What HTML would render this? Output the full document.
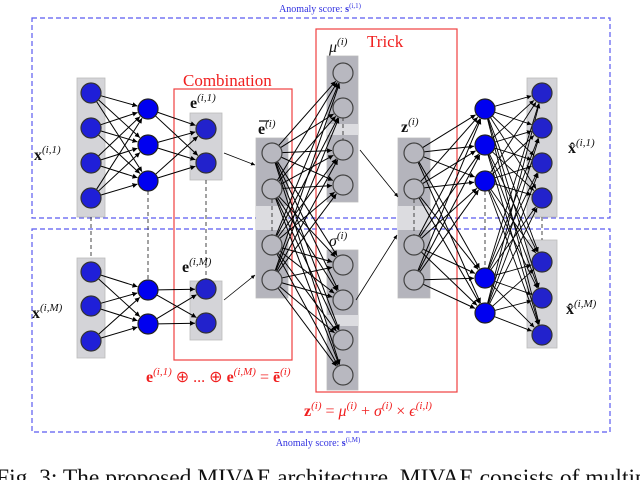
<!DOCTYPE html>
<html><head><meta charset="utf-8"><style>
html,body{margin:0;padding:0;background:#fff;width:640px;height:480px;overflow:hidden}
svg{display:block}
text{font-family:"Liberation Serif",serif}
</style></head><body>
<svg id="s" width="640" height="480" viewBox="0 0 640 480" xmlns="http://www.w3.org/2000/svg">
<defs><marker id="a" markerWidth="6" markerHeight="6" refX="5" refY="3" orient="auto"><path d="M0,0.5 L5,3 L0,5.5z" fill="#000"/></marker></defs>
<rect x="32" y="18" width="578" height="200" fill="none" stroke="#5a5af0" stroke-width="1.2" stroke-dasharray="5,3"/>
<rect x="32" y="229" width="578" height="203" fill="none" stroke="#5a5af0" stroke-width="1.2" stroke-dasharray="5,3"/>
<text x="320" y="12" font-size="10" fill="#3030e0" text-anchor="middle">Anomaly score: <tspan font-weight="bold">s</tspan><tspan font-size="7" dy="-4">(i,1)</tspan></text>
<text x="318" y="446" font-size="10" fill="#3030e0" text-anchor="middle">Anomaly score: <tspan font-weight="bold">s</tspan><tspan font-size="7" dy="-4">(i,M)</tspan></text>
<rect x="174" y="89" width="118" height="271" fill="none" stroke="#f04040" stroke-width="1.2"/>
<rect x="316" y="29" width="141" height="363" fill="none" stroke="#f04040" stroke-width="1.2"/>
<text x="183" y="86" font-size="17" fill="#f02020">Combination</text>
<text x="367" y="47" font-size="17" fill="#f02020">Trick</text>
<g id="bg"></g><g id="ed"></g><g id="nd"></g>
<g font-size="16" fill="#111">
<text x="34" y="160" font-weight="bold">x<tspan font-size="11" dy="-7" font-weight="normal" font-style="italic">(i,1)</tspan></text>
<text x="32" y="318" font-weight="bold">x<tspan font-size="11" dy="-7" font-weight="normal" font-style="italic">(i,M)</tspan></text>
<text x="568" y="153" font-weight="bold">x̂<tspan font-size="11" dy="-7" font-weight="normal" font-style="italic">(i,1)</tspan></text>
<text x="566" y="314" font-weight="bold">x̂<tspan font-size="11" dy="-7" font-weight="normal" font-style="italic">(i,M)</tspan></text>
<text x="190" y="108" font-weight="bold">e<tspan font-size="11" dy="-7" font-weight="normal" font-style="italic">(i,1)</tspan></text>
<text x="182" y="272" font-weight="bold">e<tspan font-size="11" dy="-7" font-weight="normal" font-style="italic">(i,M)</tspan></text>
<text x="258" y="134" font-weight="bold">e<tspan font-size="11" dy="-7" font-weight="normal" font-style="italic">(i)</tspan></text>
<line x1="259" y1="121" x2="269" y2="121" stroke="#111" stroke-width="1.2"/>
<text x="329" y="52" font-style="italic">μ<tspan font-size="11" dy="-7">(i)</tspan></text>
<text x="329" y="246" font-style="italic">σ<tspan font-size="11" dy="-7">(i)</tspan></text>
<text x="401" y="132" font-weight="bold">z<tspan font-size="11" dy="-7" font-weight="normal" font-style="italic">(i)</tspan></text>
</g>
<text x="146" y="382" font-size="16" fill="#f02020"><tspan font-weight="bold">e</tspan><tspan font-size="11" dy="-7" font-style="italic">(i,1)</tspan><tspan dy="7"> ⊕ ... ⊕ </tspan><tspan font-weight="bold">e</tspan><tspan font-size="11" dy="-7" font-style="italic">(i,M)</tspan><tspan dy="7"> = </tspan><tspan font-weight="bold">ē</tspan><tspan font-size="11" dy="-7" font-style="italic">(i)</tspan></text>
<text x="304" y="416" font-size="16" fill="#f02020"><tspan font-weight="bold">z</tspan><tspan font-size="11" dy="-7" font-style="italic">(i)</tspan><tspan dy="7"> = </tspan><tspan font-style="italic">μ</tspan><tspan font-size="11" dy="-7" font-style="italic">(i)</tspan><tspan dy="7"> + </tspan><tspan font-style="italic">σ</tspan><tspan font-size="11" dy="-7" font-style="italic">(i)</tspan><tspan dy="7"> × </tspan><tspan font-style="italic">ϵ</tspan><tspan font-size="11" dy="-7" font-style="italic">(i,l)</tspan></text>
<text x="-4" y="485" font-size="23.5" fill="#111">Fig. 3: The proposed MIVAE architecture. MIVAE consists of multiple</text>
</svg>
<script>
var NS="http://www.w3.org/2000/svg";
function el(g,t,a){var e=document.createElementNS(NS,t);for(var k in a)e.setAttribute(k,a[k]);document.getElementById(g).appendChild(e);return e;}
function rect(x,y,w,h,c){el("bg","rect",{x:x,y:y,width:w,height:h,fill:c,stroke:"#bbb","stroke-width":0.8});}
rect(77,78,28,139,"#d4d4d8");rect(77,258,28,100,"#d4d4d8");
rect(190,113,32,67,"#d4d4d8");rect(190,281,32,59,"#d4d4d8");
rect(256,138,32,160,"#b4b4bc");el("bg","rect",{x:256,y:206,width:32,height:24,fill:"#dcdce0"});
rect(327,56,31,146,"#b4b4bc");el("bg","rect",{x:327,y:124,width:31,height:11,fill:"#dcdce0"});
rect(327,250,31,140,"#b4b4bc");el("bg","rect",{x:327,y:315,width:31,height:11,fill:"#dcdce0"});
rect(398,138,32,160,"#b4b4bc");el("bg","rect",{x:398,y:206,width:32,height:24,fill:"#dcdce0"});
rect(527,78,30,139,"#d4d4d8");rect(527,240,30,108,"#d4d4d8");
[[91,217,258],[148,191,280],[206,180,281],[485,191,268],[542,217,240],[272,199,235],[414,199,235],[343,117,141]].forEach(function(d){el("bg","line",{x1:d[0],y1:d[1],x2:d[0],y2:d[2],stroke:"#444","stroke-dasharray":"4,3","stroke-width":1});});
var R=10;
function L(x,ys){return ys.map(function(y){return [x,y];});}
var in1=L(91,[93,128,163,198]),h1=L(148,[109,145,181]),e1=L(206,[129,163]);
var inM=L(91,[272,306,341]),hM=L(148,[290,324]),eM=L(206,[289,323]);
var eb=L(272,[153,189,245,280]),mu=L(343,[73,108,150,185]),sg=L(343,[265,300,340,375]);
var z=L(414,[153,189,245,280]);
var d1=L(485,[109,145,181]),dM=L(485,[278,313]);
var o1=L(542,[93,128,163,198]),oM=L(542,[262,298,335]);
function conn(A,B,w){A.forEach(function(a){B.forEach(function(b){var dx=b[0]-a[0],dy=b[1]-a[1],l=Math.sqrt(dx*dx+dy*dy);
el("ed","line",{x1:a[0]+dx/l*R,y1:a[1]+dy/l*R,x2:b[0]-dx/l*(R+1),y2:b[1]-dy/l*(R+1),stroke:"#000","stroke-width":w||1,"marker-end":"url(#a)"});});});}
conn(in1,h1);conn(h1,e1);conn(inM,hM);conn(hM,eM);
conn(eb,mu.concat(sg));
conn(z,d1.concat(dM));
conn(d1.concat(dM),o1.concat(oM),0.9);
function ar(x1,y1,x2,y2){el("ed","line",{x1:x1,y1:y1,x2:x2,y2:y2,stroke:"#000","stroke-width":0.8,"marker-end":"url(#a)"});}
ar(224,153,255,165);ar(224,300,255,275);ar(360,150,398,197);ar(356,300,397,235);
function nodes(A,f,st){A.forEach(function(p){el("nd","circle",{cx:p[0],cy:p[1],r:R,fill:f,stroke:st,"stroke-width":1.2});});}
nodes(in1,"#1f1fd8","#333");nodes(inM,"#1f1fd8","#333");nodes(h1,"#0000f0","#222");nodes(hM,"#0000f0","#222");
nodes(e1,"#2222cc","#333");nodes(eM,"#2222cc","#333");nodes(d1,"#0000f0","#222");nodes(dM,"#0000f0","#222");
nodes(o1,"#2222cc","#333");nodes(oM,"#2222cc","#333");
nodes(eb,"#b8b8c0","#444");nodes(mu,"#b8b8c0","#444");nodes(sg,"#b8b8c0","#444");nodes(z,"#b8b8c0","#444");
</script>
</body></html>
